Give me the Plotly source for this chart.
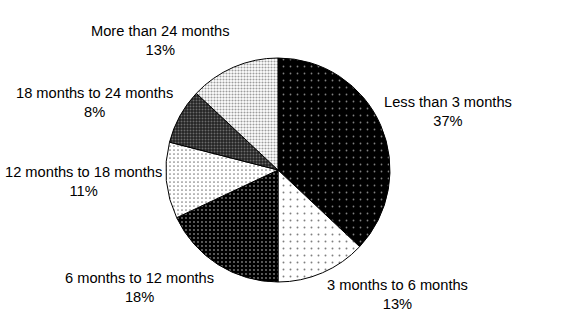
import plotly.graph_objects as go

# Time-to-completion categories and their shares (%)
categories = [
    "Less than 3 months",
    "3 months to 6 months",
    "6 months to 12 months",
    "12 months to 18 months",
    "18 months to 24 months",
    "More than 24 months",
]
shares = [37, 13, 18, 11, 8, 13]

# Fill styles for each slice: background, dot colour, dot spacing, dot solidity
bg_colors = ["#000000", "#ffffff", "#000000", "#ffffff", "#222222", "#ffffff"]
fg_colors = ["#ffffff", "#000000", "#ffffff", "#000000", "#b4b4b4", "#3c3c3c"]
dot_sizes = [7, 7, 4, 4, 3, 3]
dot_solidity = [0.05, 0.06, 0.16, 0.15, 0.35, 0.38]

W, H = 587, 335

fig = go.Figure(
    go.Pie(
        labels=categories,
        values=shares,
        sort=False,
        direction="clockwise",
        rotation=0,
        textinfo="none",
        hoverinfo="label+percent",
        marker=dict(
            colors=bg_colors,
            line=dict(color="#000000", width=1),
            pattern=dict(
                shape=["."] * len(categories),
                fillmode="overlay",
                fgcolor=fg_colors,
                size=dot_sizes,
                solidity=dot_solidity,
            ),
        ),
        domain=dict(x=[166 / W, 390 / W], y=[53 / H, 277 / H]),
        showlegend=False,
    )
)

# Label anchor points (pixels from top-left) for each slice
label_xy = [(448, 111), (397, 294), (139, 287), (83, 181), (95, 103), (160, 40)]

for name, val, (px, py) in zip(categories, shares, label_xy):
    fig.add_annotation(
        x=px / W,
        y=1 - py / H,
        xref="paper",
        yref="paper",
        text=f"{name}<br>{val}%",
        showarrow=False,
        xanchor="center",
        yanchor="middle",
        align="center",
        font=dict(family="Liberation Sans, Arial, sans-serif", size=14.67, color="#000000"),
    )

fig.update_layout(
    width=W,
    height=H,
    margin=dict(l=0, r=0, t=0, b=0),
    paper_bgcolor="#ffffff",
    plot_bgcolor="#ffffff",
)

fig.write_html("out.html")
